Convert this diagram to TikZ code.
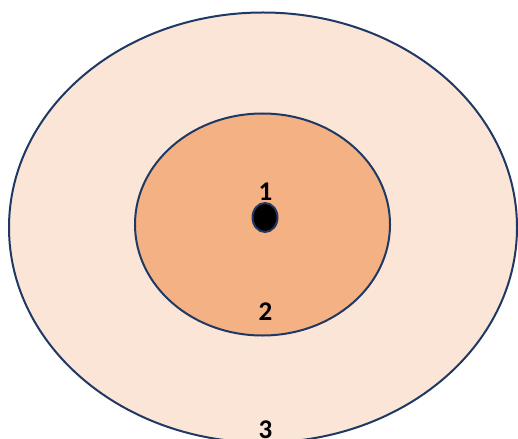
\documentclass[tikz,border=0pt]{standalone}
\usepackage{fontspec}
\setmainfont{Carlito}
\usetikzlibrary{shapes.geometric}
\definecolor{navy}{HTML}{203864}
\definecolor{outerfill}{HTML}{FBE5D6}
\definecolor{innerfill}{HTML}{F4B183}
\tikzset{
  ring/.style={ellipse, draw=navy, line width=2pt, inner sep=0pt},
  lbl/.style={font=\fontsize{27}{31}\selectfont\bfseries, inner sep=0pt, text=black}
}
\begin{document}
\begin{tikzpicture}[x=1pt,y=-1pt]
\useasboundingbox (0,0) rectangle (518,438);
\fill[white] (0,0) rectangle (518,438);
\node[ring, fill=outerfill, minimum width=508pt, minimum height=430pt] (outer) at (263,227.5) {};
\node[ring, fill=innerfill, minimum width=255pt, minimum height=222pt] (inner) at (262.5,224.5) {};
\node[ring, fill=black, line width=2pt, minimum width=25pt, minimum height=29pt] (core) at (265,217.5) {};
\node[lbl] (l1) at (265.5,192) {1};
\node[lbl] (l2) at (265.5,312) {2};
\node[lbl] (l3) at (265.5,429.5) {3};
\end{tikzpicture}
\end{document}
